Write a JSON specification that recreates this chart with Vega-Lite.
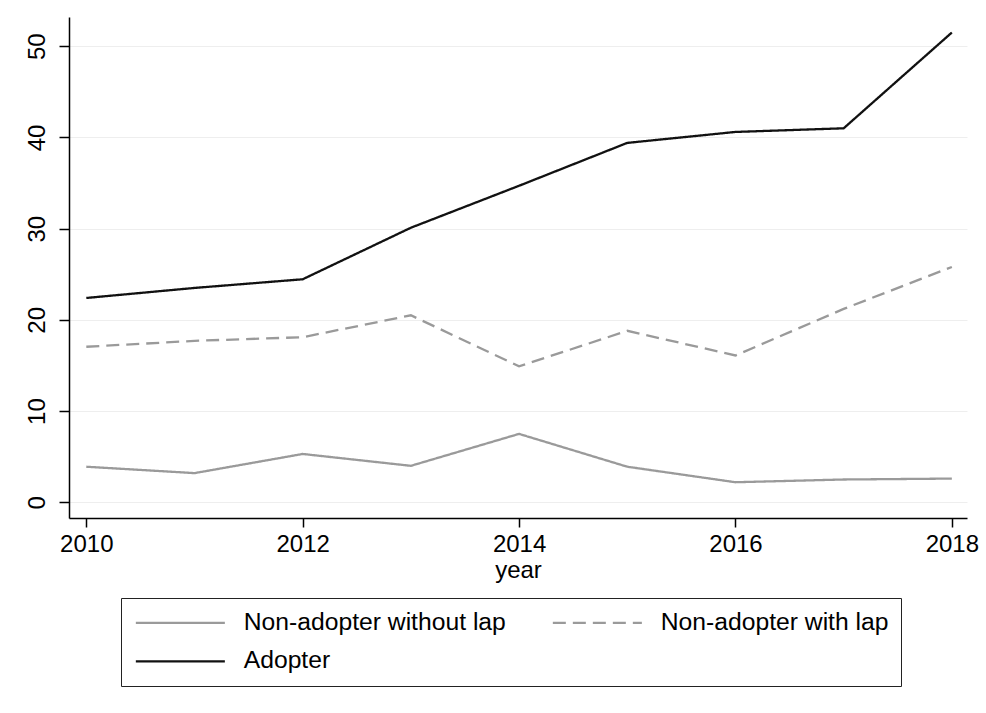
{
  "$schema": "https://vega.github.io/schema/vega-lite/v6.json",
  "width": 898,
  "height": 501,
  "autosize": {"type": "none"},
  "padding": {"left": 69, "top": 17, "right": 19, "bottom": 195},
  "background": "white",
  "data": {
    "values": [
      {"year": 2010, "group": "Non-adopter without lap", "value": 3.9},
      {"year": 2011, "group": "Non-adopter without lap", "value": 3.2},
      {"year": 2012, "group": "Non-adopter without lap", "value": 5.3},
      {"year": 2013, "group": "Non-adopter without lap", "value": 4.0},
      {"year": 2014, "group": "Non-adopter without lap", "value": 7.5},
      {"year": 2015, "group": "Non-adopter without lap", "value": 3.9},
      {"year": 2016, "group": "Non-adopter without lap", "value": 2.2},
      {"year": 2017, "group": "Non-adopter without lap", "value": 2.5},
      {"year": 2018, "group": "Non-adopter without lap", "value": 2.6},
      {"year": 2010, "group": "Non-adopter with lap", "value": 17.05},
      {"year": 2011, "group": "Non-adopter with lap", "value": 17.7},
      {"year": 2012, "group": "Non-adopter with lap", "value": 18.1},
      {"year": 2013, "group": "Non-adopter with lap", "value": 20.5},
      {"year": 2014, "group": "Non-adopter with lap", "value": 14.9},
      {"year": 2015, "group": "Non-adopter with lap", "value": 18.8},
      {"year": 2016, "group": "Non-adopter with lap", "value": 16.1},
      {"year": 2017, "group": "Non-adopter with lap", "value": 21.2},
      {"year": 2018, "group": "Non-adopter with lap", "value": 25.8},
      {"year": 2010, "group": "Adopter", "value": 22.4},
      {"year": 2011, "group": "Adopter", "value": 23.5},
      {"year": 2012, "group": "Adopter", "value": 24.45},
      {"year": 2013, "group": "Adopter", "value": 30.1},
      {"year": 2014, "group": "Adopter", "value": 34.7},
      {"year": 2015, "group": "Adopter", "value": 39.4},
      {"year": 2016, "group": "Adopter", "value": 40.6},
      {"year": 2017, "group": "Adopter", "value": 41.0},
      {"year": 2018, "group": "Adopter", "value": 51.5}
    ]
  },
  "mark": {"type": "line", "strokeWidth": 2.3, "clip": false},
  "encoding": {
    "x": {
      "field": "year",
      "type": "quantitative",
      "scale": {"domain": [2009.84, 2018.14], "nice": false, "zero": false},
      "axis": {
        "title": "year",
        "values": [2010, 2012, 2014, 2016, 2018],
        "format": "d",
        "grid": false,
        "tickSize": 9,
        "labelPadding": 5,
        "titlePadding": 2
      }
    },
    "y": {
      "field": "value",
      "type": "quantitative",
      "scale": {"domain": [-1.72, 53.2], "nice": false, "zero": false},
      "axis": {
        "title": null,
        "values": [0, 10, 20, 30, 40, 50],
        "grid": true,
        "gridColor": "#eeeeee",
        "gridWidth": 1,
        "tickSize": 10,
        "labelAngle": -90,
        "labelAlign": "center",
        "labelBaseline": "alphabetic",
        "labelPadding": 15
      }
    },
    "color": {
      "field": "group",
      "type": "nominal",
      "scale": {
        "domain": ["Non-adopter without lap", "Non-adopter with lap", "Adopter"],
        "range": ["#9a9a9a", "#9a9a9a", "#111111"]
      },
      "legend": {
        "title": null,
        "orient": "none",
        "legendX": 52,
        "legendY": 581,
        "direction": "horizontal",
        "columns": 2,
        "symbolType": "M-5,0H5",
        "symbolSize": 317,
        "symbolStrokeWidth": 2.3,
        "symbolOffset": 35,
        "labelFont": "Liberation Sans",
        "labelFontSize": 24.7,
        "labelColor": "black",
        "labelOffset": 51,
        "labelLimit": 400,
        "columnPadding": 42,
        "rowPadding": 13,
        "padding": 12,
        "strokeColor": "#222222",
        "fillColor": "white"
      }
    },
    "strokeDash": {
      "field": "group",
      "type": "nominal",
      "scale": {
        "domain": ["Non-adopter without lap", "Non-adopter with lap", "Adopter"],
        "range": [[1, 0], [13, 7], [1, 0]]
      },
      "legend": null
    }
  },
  "config": {
    "view": {"stroke": null},
    "font": "Liberation Sans",
    "axis": {
      "labelFont": "Liberation Sans",
      "labelFontSize": 24,
      "labelColor": "black",
      "titleFont": "Liberation Sans",
      "titleFontSize": 24,
      "titleFontWeight": "normal",
      "titleColor": "black",
      "domainColor": "black",
      "domainWidth": 1.5,
      "tickColor": "black",
      "tickWidth": 1.5
    }
  }
}
